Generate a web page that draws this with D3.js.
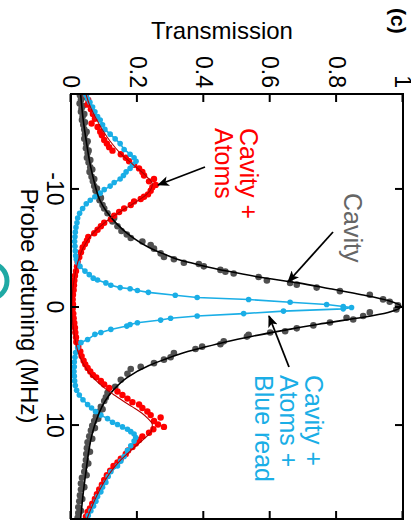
<!DOCTYPE html>
<html>
<head>
<meta charset="utf-8">
<script src="https://cdn.jsdelivr.net/npm/d3@7"></script>
<style>
  html, body { margin: 0; padding: 0; background: #fff; }
  svg { display: block; font-family: "Liberation Sans", Arial, sans-serif; }
</style>
</head>
<body>
<svg id="chart" width="411" height="521"></svg>
<script>
// Axis ticks
const transTicks = [0, 0.2, 0.4, 0.6, 0.8, 1];
const transTickLabels = ["0", "0.2", "0.4", "0.6", "0.8", "1"];
const detTicks = [-10, 0, 10];
const detTickLabels = ["-10", "0", "10"];

// Empty cavity: measured transmission vs probe detuning (MHz)
const cavityDetuning = [-17.9,-17.7,-17.5,-17.2,-17.0,-16.8,-16.5,-16.3,-16.1,-15.8,-15.6,-15.4,-15.0,-14.8,-14.6,-14.2,-14.0,-13.8,-13.4,-13.2,-13.0,-12.6,-12.4,-12.2,-11.8,-11.6,-11.4,-11.0,-10.8,-10.6,-10.2,-10.0,-9.8,-9.4,-9.2,-9.0,-8.6,-8.3,-7.9,-7.5,-7.2,-6.8,-6.4,-6.1,-5.8,-5.5,-5.2,-4.9,-4.5,-4.2,-4.0,-3.7,-3.6,-3.4,-3.1,-2.95,-2.8,-2.5,-2.2,-2.0,-1.85,-1.6,-1.3,-1.0,-0.6,-0.4,-0.1,0.25,0.5,0.8,0.95,1.1,1.35,1.6,1.85,2.1,2.2,2.4,2.55,2.95,3.2,3.4,3.6,3.95,4.3,4.5,4.8,5.1,5.3,5.7,6.2,6.8,7.3,7.7,8.0,8.5,8.7,8.9,9.3,9.5,9.7,10.1,10.3,10.5,11.0,11.2,11.5,12.0,12.3,12.5,13.0,13.3,13.5,14.0,14.3,14.5,15.0,15.3,15.5,16.0,16.3,16.5,17.0,17.3,17.5,17.9];
const cavityTrans = [0.027,0.035,0.03,0.026,0.036,0.032,0.03,0.04,0.035,0.033,0.042,0.037,0.04,0.047,0.042,0.04,0.05,0.046,0.045,0.053,0.05,0.048,0.058,0.053,0.058,0.064,0.056,0.062,0.07,0.066,0.07,0.078,0.074,0.08,0.09,0.086,0.095,0.1,0.11,0.13,0.125,0.14,0.152,0.168,0.18,0.215,0.24,0.25,0.27,0.28,0.31,0.34,0.385,0.4,0.45,0.465,0.49,0.565,0.59,0.66,0.68,0.74,0.81,0.9,0.94,0.96,0.985,0.98,0.9,0.88,0.83,0.85,0.78,0.73,0.68,0.645,0.6,0.535,0.53,0.46,0.45,0.395,0.375,0.31,0.3,0.28,0.25,0.21,0.18,0.17,0.15,0.133,0.11,0.105,0.1,0.09,0.095,0.085,0.075,0.082,0.07,0.064,0.072,0.06,0.055,0.064,0.05,0.048,0.057,0.046,0.045,0.052,0.042,0.04,0.047,0.033,0.03,0.04,0.03,0.027,0.034,0.025,0.022,0.03,0.022,0.02];

// Empty cavity: fitted curve
const cavityFitDetuning = [-18,-16,-14,-12,-11,-10,-9,-8,-7,-6,-5,-4.5,-4,-3.5,-3,-2.5,-2,-1.5,-1,-0.5,0,0.5,1,1.5,2,2.5,3,3.5,4,4.5,5,6,7,8,9,10,11,12,14,16,18];
const cavityFitTrans = [0.029,0.036,0.046,0.058,0.066,0.075,0.087,0.108,0.138,0.178,0.235,0.275,0.32,0.39,0.47,0.565,0.685,0.78,0.875,0.955,0.994,0.955,0.86,0.745,0.645,0.55,0.465,0.395,0.33,0.28,0.235,0.17,0.13,0.103,0.085,0.072,0.062,0.055,0.045,0.036,0.029];

// Cavity + atoms: measured
const atomsDetuning = [-17.9,-17.5,-17.1,-16.7,-16.3,-15.9,-15.5,-15.2,-14.8,-14.5,-14.1,-13.8,-13.5,-13.2,-12.9,-12.6,-12.3,-12.0,-11.7,-11.4,-11.1,-10.8,-10.6,-10.3,-10.1,-9.8,-9.5,-9.3,-9.1,-8.9,-8.6,-8.3,-8.0,-7.7,-7.4,-7.1,-6.8,-6.5,-6.2,-5.9,-5.6,-5.3,-5.0,-4.6,-4.2,-3.8,-3.4,-3.0,-2.6,-2.2,-1.8,-1.4,-1.0,-0.6,-0.2,0.2,0.6,1.0,1.4,1.8,2.2,2.6,3.0,3.4,3.8,4.2,4.6,4.9,5.2,5.5,5.8,6.0,6.3,6.6,6.9,7.2,7.5,7.8,8.1,8.3,8.6,8.9,9.2,9.4,9.7,10.0,10.2,10.4,10.7,11.0,11.3,11.6,11.9,12.2,12.5,12.9,13.2,13.5,13.9,14.3,14.7,15.1,15.5,15.9,16.3,16.7,17.1,17.4,17.8];
const atomsTrans = [0.045,0.052,0.05,0.06,0.066,0.072,0.062,0.08,0.088,0.093,0.1,0.108,0.115,0.125,0.15,0.165,0.175,0.19,0.205,0.215,0.22,0.25,0.235,0.255,0.245,0.24,0.232,0.22,0.21,0.19,0.18,0.16,0.145,0.13,0.12,0.1,0.09,0.08,0.07,0.052,0.048,0.042,0.035,0.03,0.025,0.02,0.018,0.015,0.012,0.01,0.009,0.008,0.006,0.005,0.006,0.005,0.007,0.008,0.01,0.012,0.013,0.015,0.016,0.022,0.028,0.032,0.038,0.043,0.05,0.058,0.066,0.076,0.09,0.1,0.115,0.14,0.155,0.17,0.185,0.205,0.215,0.23,0.24,0.27,0.25,0.262,0.28,0.248,0.235,0.215,0.205,0.195,0.185,0.172,0.165,0.15,0.14,0.128,0.118,0.108,0.1,0.093,0.085,0.078,0.072,0.064,0.057,0.05,0.045];

// Cavity + atoms: fitted curve
const atomsFitDetuning = [-18,-17,-16,-15,-14,-13,-12,-11,-10.4,-10,-9.5,-9,-8.5,-8,-7.5,-7,-6.5,-6,-5,-4,-3,-2,-1,0,1,2,3,4,5,6,7,7.5,8,8.5,9,9.5,10,10.5,11,12,13,14,15,16,17,18];
const atomsFitTrans = [0.045,0.057,0.074,0.094,0.118,0.148,0.188,0.228,0.245,0.242,0.228,0.203,0.175,0.147,0.12,0.097,0.077,0.06,0.037,0.023,0.014,0.008,0.004,0.003,0.004,0.008,0.014,0.023,0.04,0.066,0.105,0.13,0.157,0.185,0.212,0.232,0.245,0.243,0.228,0.188,0.15,0.12,0.097,0.078,0.062,0.048];

// Cavity + atoms + blue read: measured (joined point to point)
const blueDetuning = [-17.9,-17.6,-17.3,-16.9,-16.5,-16.1,-15.8,-15.4,-15.0,-14.6,-14.2,-13.8,-13.3,-12.9,-12.6,-12.3,-12.0,-11.7,-11.4,-11.1,-10.8,-10.5,-10.2,-9.9,-9.6,-9.3,-9.0,-8.7,-8.3,-7.9,-7.5,-7.1,-6.7,-6.3,-5.9,-5.5,-5.1,-4.7,-4.3,-4.0,-3.7,-3.4,-3.0,-2.7,-2.4,-2.25,-2.0,-1.8,-1.6,-1.5,-1.35,-1.2,-0.95,-0.76,-0.59,-0.36,-0.17,0.0,0.08,0.2,0.39,0.6,0.8,1.0,1.15,1.38,1.52,1.66,1.94,2.2,2.36,2.8,3.06,3.5,3.9,4.3,4.7,5.1,5.5,5.9,6.3,6.7,7.1,7.5,7.9,8.3,8.6,8.9,9.2,9.5,9.8,10.0,10.2,10.4,10.6,10.8,11.1,11.4,11.8,12.2,12.7,13.1,13.5,14.0,14.4,14.9,15.3,15.7,16.1,16.5,16.9,17.3,17.7];
const blueTrans = [0.045,0.05,0.057,0.065,0.072,0.08,0.088,0.095,0.102,0.118,0.133,0.148,0.16,0.178,0.19,0.196,0.185,0.178,0.166,0.158,0.148,0.13,0.118,0.1,0.088,0.072,0.058,0.046,0.035,0.026,0.02,0.018,0.015,0.013,0.012,0.011,0.012,0.013,0.014,0.016,0.02,0.027,0.042,0.055,0.067,0.08,0.105,0.12,0.148,0.178,0.2,0.233,0.314,0.38,0.535,0.66,0.77,0.82,0.845,0.82,0.64,0.52,0.38,0.3,0.27,0.2,0.178,0.168,0.12,0.09,0.072,0.05,0.03,0.02,0.014,0.012,0.01,0.01,0.009,0.01,0.011,0.013,0.017,0.025,0.036,0.05,0.062,0.074,0.09,0.11,0.125,0.14,0.155,0.17,0.18,0.19,0.195,0.19,0.18,0.17,0.16,0.15,0.14,0.12,0.112,0.105,0.095,0.09,0.08,0.075,0.068,0.06,0.052];

const colGray = "#505050";
const colRed = "#ff0000";
const colDarkRed = "#b30000";
const colBlue = "#1aaee6";

const svg = d3.select("#chart");

// Plot frame on the page; the plot itself is drawn turned a quarter turn clockwise,
// so detuning runs downward and transmission runs to the right.
const frameLeft = 71, frameTop = 94, frameRight = 403, frameBottom = 519;
const W = frameBottom - frameTop;   // length of the detuning axis
const H = frameRight - frameLeft;   // length of the transmission axis

const g = svg.append("g")
  .attr("transform", `translate(${frameRight},${frameTop}) rotate(90)`);

const x = d3.scaleLinear().domain([-18, 18]).range([0, W]);
const y = d3.scaleLinear().domain([0, 1]).range([H, 0]);

g.append("defs").append("clipPath").attr("id", "plotClip")
  .append("rect").attr("width", W).attr("height", H);

const plot = g.append("g").attr("clip-path", "url(#plotClip)");

const toPts = (a, b) => d3.zip(a, b);
const smooth = d3.line().x(d => x(d[0])).y(d => y(d[1])).curve(d3.curveMonotoneX);
const straight = d3.line().x(d => x(d[0])).y(d => y(d[1]));

// Cavity points
plot.append("g").selectAll("circle")
  .data(toPts(cavityDetuning, cavityTrans)).join("circle")
  .attr("cx", d => x(d[0])).attr("cy", d => y(d[1])).attr("r", 3.3)
  .attr("fill", colGray);

// Cavity + atoms points
plot.append("g").selectAll("circle")
  .data(toPts(atomsDetuning, atomsTrans)).join("circle")
  .attr("cx", d => x(d[0])).attr("cy", d => y(d[1])).attr("r", 3.2)
  .attr("fill", colRed);

// Blue read: line through points plus markers
plot.append("path")
  .attr("d", straight(toPts(blueDetuning, blueTrans)))
  .attr("fill", "none").attr("stroke", colBlue).attr("stroke-width", 1.6);
plot.append("g").selectAll("circle")
  .data(toPts(blueDetuning, blueTrans)).join("circle")
  .attr("cx", d => x(d[0])).attr("cy", d => y(d[1])).attr("r", 2.8)
  .attr("fill", colBlue);

// Fits
plot.append("path")
  .attr("d", smooth(toPts(cavityFitDetuning, cavityFitTrans)))
  .attr("fill", "none").attr("stroke", "#000").attr("stroke-width", 1.6);
plot.append("path")
  .attr("d", smooth(toPts(atomsFitDetuning, atomsFitTrans)))
  .attr("fill", "none").attr("stroke", colDarkRed).attr("stroke-width", 1.1);

// Axes with inward ticks on all four sides
function styleAxis(sel) {
  sel.select(".domain").remove();
  sel.attr("font-family", null).attr("font-size", 23);
  sel.selectAll(".tick line").attr("stroke", "#000").attr("stroke-width", 2);
  sel.selectAll(".tick text").attr("fill", "#000");
}
g.append("g")
  .call(d3.axisLeft(y).tickValues(transTicks).tickFormat((d, i) => transTickLabels[i])
    .tickSizeInner(-8).tickSizeOuter(0).tickPadding(6))
  .call(styleAxis);
g.append("g").attr("transform", `translate(${W},0)`)
  .call(d3.axisRight(y).tickValues(transTicks).tickFormat("")
    .tickSizeInner(-8).tickSizeOuter(0))
  .call(styleAxis);
g.append("g").attr("transform", `translate(0,${H})`)
  .call(d3.axisBottom(x).tickValues(detTicks).tickFormat((d, i) => detTickLabels[i])
    .tickSizeInner(-8).tickSizeOuter(0).tickPadding(8))
  .call(styleAxis);
g.append("g")
  .call(d3.axisTop(x).tickValues(detTicks).tickFormat("")
    .tickSizeInner(-8).tickSizeOuter(0))
  .call(styleAxis);

g.append("rect").attr("width", W).attr("height", H)
  .attr("fill", "none").attr("stroke", "#000").attr("stroke-width", 2);

// Axis titles
g.append("text").attr("x", 212).attr("y", 382)
  .attr("text-anchor", "middle").attr("font-size", 24).attr("fill", "#000")
  .text("Probe detuning (MHz)");
svg.append("text").attr("x", 222).attr("y", 39)
  .attr("text-anchor", "middle").attr("font-size", 24).attr("fill", "#000")
  .text("Transmission");
g.append("text").attr("x", -86).attr("y", 12)
  .attr("font-size", 21).attr("font-weight", "bold").attr("fill", "#000")
  .text("(c)");

// Annotations
const marker = g.select("defs").append("marker")
  .attr("id", "arrowHead").attr("viewBox", "0 0 12 10")
  .attr("refX", 11).attr("refY", 5)
  .attr("markerWidth", 12).attr("markerHeight", 10)
  .attr("markerUnits", "userSpaceOnUse").attr("orient", "auto");
marker.append("path").attr("d", "M0,0 L12,5 L0,10 L3,5 Z").attr("fill", "#000");

function label(lines, u, v, color) {
  const t = g.append("text").attr("font-size", 25).attr("fill", color);
  lines.forEach((s, i) => {
    t.append("tspan").attr("x", u).attr("y", v + i * 25).text(s);
  });
}
function arrow(u1, v1, u2, v2) {
  g.append("line").attr("x1", u1).attr("y1", v1).attr("x2", u2).attr("y2", v2)
    .attr("stroke", "#000").attr("stroke-width", 1.8)
    .attr("marker-end", "url(#arrowHead)");
}

label(["Cavity +", "Atoms"], 34, 163, colRed);
arrow(73, 198, 91, 245);

label(["Cavity"], 99, 59, "#666");
arrow(138, 70, 188, 115);

label(["Cavity +", "Atoms +", "Blue read"], 281, 98, colBlue);
arrow(273, 114, 222, 134);

// Edge of the neighbouring panel's marker
svg.append("circle").attr("cx", -11).attr("cy", 281).attr("r", 18)
  .attr("fill", "none").attr("stroke", "#1fa9a4").attr("stroke-width", 5);
</script>
</body>
</html>
